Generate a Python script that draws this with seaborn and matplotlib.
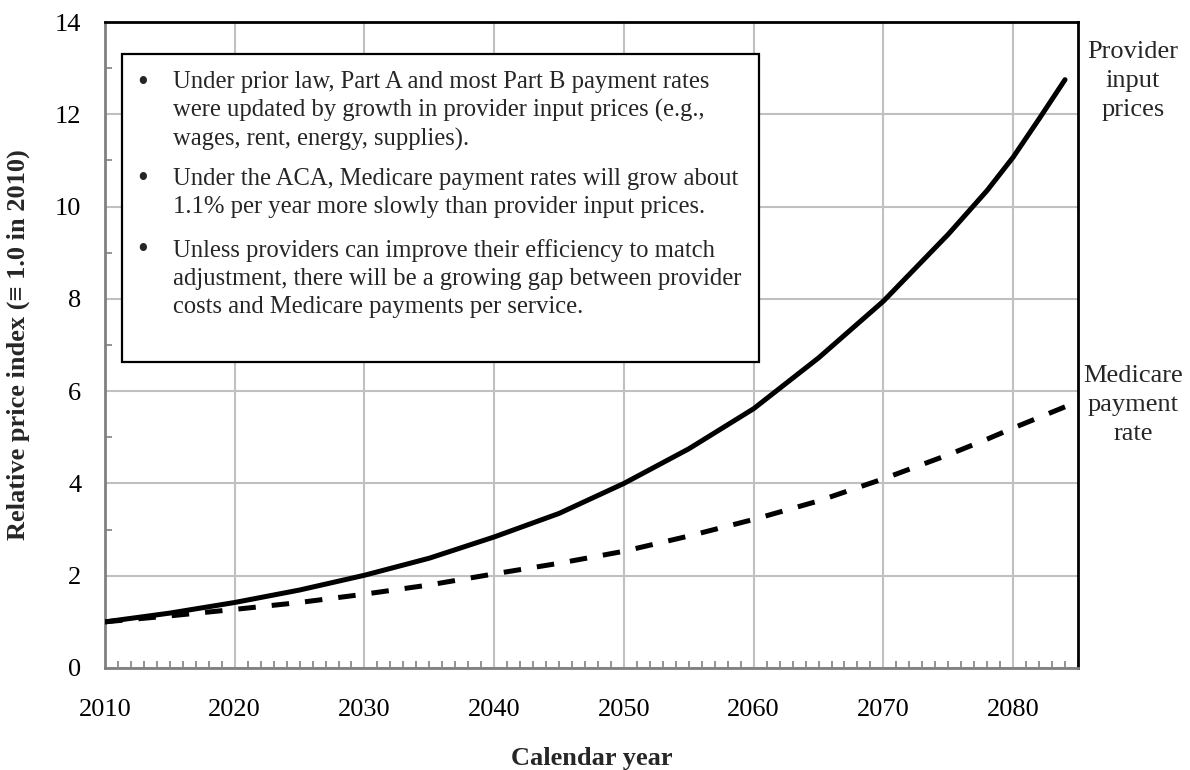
import matplotlib
matplotlib.use("Agg")
import matplotlib.pyplot as plt
from matplotlib.patches import Rectangle
from matplotlib.ticker import MultipleLocator
import pandas as pd
import seaborn as sns

# values
years = [2010, 2015, 2020, 2025, 2030, 2035, 2040, 2045, 2050, 2055, 2060, 2065, 2070, 2075, 2078, 2080, 2082, 2084]
provider_prices = [1.00, 1.19, 1.42, 1.69, 2.01, 2.38, 2.84, 3.35, 4.00, 4.75, 5.62, 6.72, 7.95, 9.40, 10.35, 11.07, 11.90, 12.75]
medicare_rate = [1.00, 1.13, 1.27, 1.42, 1.60, 1.80, 2.04, 2.27, 2.53, 2.86, 3.22, 3.62, 4.10, 4.62, 4.96, 5.20, 5.43, 5.66]

series_names = ["Provider input prices", "Medicare payment rate"]
bullets = [
    "Under prior law, Part A and most Part B payment rates\n"
    "were updated by growth in provider input prices (e.g.,\n"
    "wages, rent, energy, supplies).",
    "Under the ACA, Medicare payment rates will grow about\n"
    "1.1% per year more slowly than provider input prices.",
    "Unless providers can improve their efficiency to match\n"
    "adjustment, there will be a growing gap between provider\n"
    "costs and Medicare payments per service.",
]
side_labels = ["Provider\ninput\nprices", "Medicare\npayment\nrate"]

df = pd.concat([
    pd.DataFrame({"year": years, "index": provider_prices, "series": series_names[0]}),
    pd.DataFrame({"year": years, "index": medicare_rate, "series": series_names[1]}),
])

sns.set_theme(style="white")
plt.rcParams["font.family"] = ["Liberation Serif", "DejaVu Serif"]

W, H = 1190, 770
fig = plt.figure(figsize=(W / 100, H / 100), dpi=100)
# axes box in pixels: left 105, right 1078, top 22, bottom 668
ax = fig.add_axes([105 / W, (H - 668) / H, (1078 - 105) / W, (668 - 22) / H])

sns.lineplot(
    data=df, x="year", y="index", style="series",
    dashes={series_names[0]: "", series_names[1]: (3.5, 3.2)},
    color="black", linewidth=3.6, legend=False, ax=ax, zorder=4,
)

ax.set_xlim(2010, 2085)
ax.set_ylim(0, 14)
ax.xaxis.set_major_locator(MultipleLocator(10))
ax.xaxis.set_minor_locator(MultipleLocator(1))
ax.yaxis.set_major_locator(MultipleLocator(2))
ax.yaxis.set_minor_locator(MultipleLocator(1))
ax.set_xticks(range(2010, 2081, 10))

ax.grid(True, which="major", color="#c0c0c0", linewidth=1.5)
ax.set_axisbelow(True)
ax.tick_params(which="both", bottom=True, left=True)
ax.tick_params(which="major", length=0, labelsize=19, colors="black")
ax.tick_params(axis="x", which="major", pad=22)
ax.tick_params(axis="y", which="major", pad=17)
ax.tick_params(which="minor", direction="in", length=5, width=1.2, color="#808080")

for side in ["left", "bottom"]:
    ax.spines[side].set_color("#808080")
    ax.spines[side].set_linewidth(2)
for side in ["top", "right"]:
    ax.spines[side].set_color("black")
    ax.spines[side].set_linewidth(2)

ax.set_xlabel("Calendar year", fontsize=19, fontweight="bold")
ax.set_ylabel("Relative price index (\u2261 1.0 in 2010)", fontsize=19, fontweight="bold")
ax.xaxis.set_label_coords(0.5, (668 - 758) / 646)
ax.xaxis.label.set_va("center")
ax.yaxis.set_label_coords((18 - 105) / 973, 0.5)
ax.yaxis.label.set_va("center")

# text box with bullet notes
box = Rectangle((0.0175, 0.4737), 0.672 - 0.0175, 0.950 - 0.4737,
                transform=ax.transAxes, facecolor="white", edgecolor="black",
                linewidth=1.6, zorder=5)
ax.add_patch(box)
para_tops = [0.924, 0.774, 0.664]
for txt, y in zip(bullets, para_tops):
    ax.text(0.039, y + 0.004, "\u2022", transform=ax.transAxes, fontsize=22, va="top",
            ha="center", zorder=6)
    ax.text(0.0699, y, txt, transform=ax.transAxes, fontsize=17.7, va="top",
            ha="left", linespacing=1.34, zorder=6)

# line labels to the right of the plot
fig.text(1133 / W, (H - 81) / H, side_labels[0], fontsize=19, ha="center",
         va="center", multialignment="center", linespacing=1.4)
fig.text(1133 / W, (H - 405) / H, side_labels[1], fontsize=19, ha="center",
         va="center", multialignment="center", linespacing=1.4)

fig.savefig("out.png", dpi=100)
